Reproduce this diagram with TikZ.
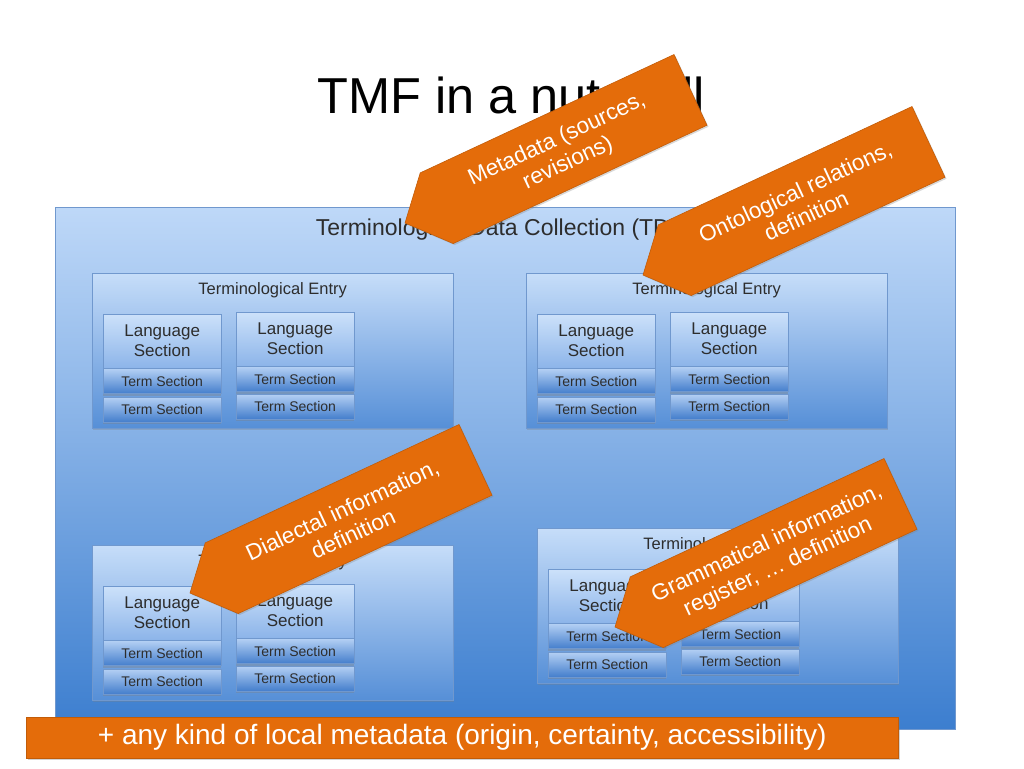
\documentclass[tikz,border=0pt]{standalone}
\usepackage{fontspec}
\setmainfont{Liberation Sans}
\usetikzlibrary{positioning,shadows}

\definecolor{tdctop}{RGB}{190,216,248}
\definecolor{tdcbot}{RGB}{60,126,207}
\definecolor{entrytop}{RGB}{198,221,249}
\definecolor{entrybot}{RGB}{86,143,215}
\definecolor{langtop}{RGB}{204,225,250}
\definecolor{langbot}{RGB}{140,180,233}
\definecolor{termtop}{RGB}{180,208,244}
\definecolor{termbot}{RGB}{68,126,204}
\definecolor{boxline}{RGB}{112,152,206}
\definecolor{orangefill}{RGB}{228,108,10}
\definecolor{boxtext}{RGB}{45,45,45}

\tikzset{
  tdcbox/.style={draw=boxline, top color=tdctop, bottom color=tdcbot,
    minimum width=900pt, minimum height=522pt, inner sep=0pt, anchor=north west},
  entrybox/.style={draw=boxline, top color=entrytop, bottom color=entrybot,
    minimum width=361pt, minimum height=155pt, inner sep=0pt, anchor=north west,
    drop shadow={opacity=.3, shadow xshift=1pt, shadow yshift=-2pt}},
  entrytitle/.style={anchor=base, text=boxtext, font=\fontsize{16.5}{18}\selectfont},
  langbox/.style={draw=boxline, top color=langtop, bottom color=langbot,
    minimum width=118pt, minimum height=54pt, inner sep=0pt, align=center,
    text=boxtext, font=\fontsize{17}{20}\selectfont},
  termbox/.style={draw=boxline, top color=termtop, bottom color=termbot,
    minimum width=118pt, minimum height=25pt, inner sep=0pt,
    text=boxtext, font=\fontsize{14}{16}\selectfont,
    drop shadow={opacity=.35, shadow xshift=0pt, shadow yshift=-2pt}},
  calloutbody/.style={fill=orangefill, draw=orangefill!85!black, line width=.6pt,
    drop shadow={opacity=.3, shadow xshift=1.5pt, shadow yshift=-1.5pt}},
  callouttext/.style={text=white, align=center, transform shape,
    font=\fontsize{22.5}{26}\selectfont},
  localbar/.style={fill=orangefill, draw=orangefill!85!black, anchor=north west,
    minimum width=872pt, minimum height=41pt, inner sep=0pt, text=white,
    font=\fontsize{28}{30}\selectfont,
    drop shadow={opacity=.35, shadow xshift=1.5pt, shadow yshift=-2pt}},
}

\begin{document}
\begin{tikzpicture}[x=1pt, y=-1pt]
  \useasboundingbox[fill=white] (0,0) rectangle (1024,768);

  % slide title
  \node[anchor=base, font=\fontsize{50.5}{52}\selectfont] (title) at (511,113) {TMF in a nutshell};

  % collection
  \node[tdcbox] (tdc) at (55,207) {};
  \node[anchor=base, text=boxtext, font=\fontsize{23}{25}\selectfont] (tdct) at (505,235)
    {Terminological Data Collection (TDC)};

  % entry top left
  \node[entrybox] (tl) at (92,273) {};
  \node[entrytitle] (tlt) at ([yshift=-21pt]tl.north) {Terminological Entry};
  \node[langbox, below right=41pt and 11pt of tl.north west] (tla) {Language\\Section};
  \node[termbox, below=0pt of tla] (tla1) {Term Section};
  \node[termbox, below=3pt of tla1] (tla2) {Term Section};
  \node[langbox, below right=39pt and 144pt of tl.north west] (tlb) {Language\\Section};
  \node[termbox, below=0pt of tlb] (tlb1) {Term Section};
  \node[termbox, below=2pt of tlb1] (tlb2) {Term Section};

  % entry top right
  \node[entrybox] (tr) at (526,273) {};
  \node[entrytitle] (trt) at ([yshift=-21pt]tr.north) {Terminological Entry};
  \node[langbox, below right=41pt and 11pt of tr.north west] (tra) {Language\\Section};
  \node[termbox, below=0pt of tra] (tra1) {Term Section};
  \node[termbox, below=3pt of tra1] (tra2) {Term Section};
  \node[langbox, below right=39pt and 144pt of tr.north west] (trb) {Language\\Section};
  \node[termbox, below=0pt of trb] (trb1) {Term Section};
  \node[termbox, below=2pt of trb1] (trb2) {Term Section};

  % entry bottom left
  \node[entrybox] (bl) at (92,545) {};
  \node[entrytitle] (blt) at ([yshift=-21pt]bl.north) {Terminological Entry};
  \node[langbox, below right=41pt and 11pt of bl.north west] (bla) {Language\\Section};
  \node[termbox, below=0pt of bla] (bla1) {Term Section};
  \node[termbox, below=3pt of bla1] (bla2) {Term Section};
  \node[langbox, below right=39pt and 144pt of bl.north west] (blb) {Language\\Section};
  \node[termbox, below=0pt of blb] (blb1) {Term Section};
  \node[termbox, below=2pt of blb1] (blb2) {Term Section};

  % entry bottom right
  \node[entrybox] (br) at (537,528) {};
  \node[entrytitle] (brt) at ([yshift=-21pt]br.north) {Terminological Entry};
  \node[langbox, below right=41pt and 11pt of br.north west] (bra) {Language\\Section};
  \node[termbox, below=0pt of bra] (bra1) {Term Section};
  \node[termbox, below=3pt of bra1] (bra2) {Term Section};
  \node[langbox, below right=39pt and 144pt of br.north west] (brb) {Language\\Section};
  \node[termbox, below=0pt of brb] (brb1) {Term Section};
  \node[termbox, below=2pt of brb1] (brb2) {Term Section};

  % callouts
  \begin{scope}[shift={(405,223)}, rotate=25]
    \draw[calloutbody] (0,0) -- (35,-39) -- (315,-39) -- (315,39) -- (35,39) -- cycle;
    \node[callouttext] (meta) at (173,2) {Metadata (sources,\\revisions)};
  \end{scope}
  \begin{scope}[shift={(643,275)}, rotate=25]
    \draw[calloutbody] (0,0) -- (35,-39) -- (315,-39) -- (315,39) -- (35,39) -- cycle;
    \node[callouttext] (onto) at (173,2) {Ontological relations,\\definition};
  \end{scope}
  \begin{scope}[shift={(190,593)}, rotate=25]
    \draw[calloutbody] (0,0) -- (35,-39) -- (315,-39) -- (315,39) -- (35,39) -- cycle;
    \node[callouttext] (dial) at (173,2) {Dialectal information,\\definition};
  \end{scope}
  \begin{scope}[shift={(615,627)}, rotate=25]
    \draw[calloutbody] (0,0) -- (35,-39) -- (315,-39) -- (315,39) -- (35,39) -- cycle;
    \node[callouttext] (gram) at (173,2) {Grammatical information,\\register, … definition};
  \end{scope}

  % local metadata
  \node[localbar] (local) at (26,717) {+ any kind of local metadata (origin, certainty, accessibility)};
\end{tikzpicture}
\end{document}
